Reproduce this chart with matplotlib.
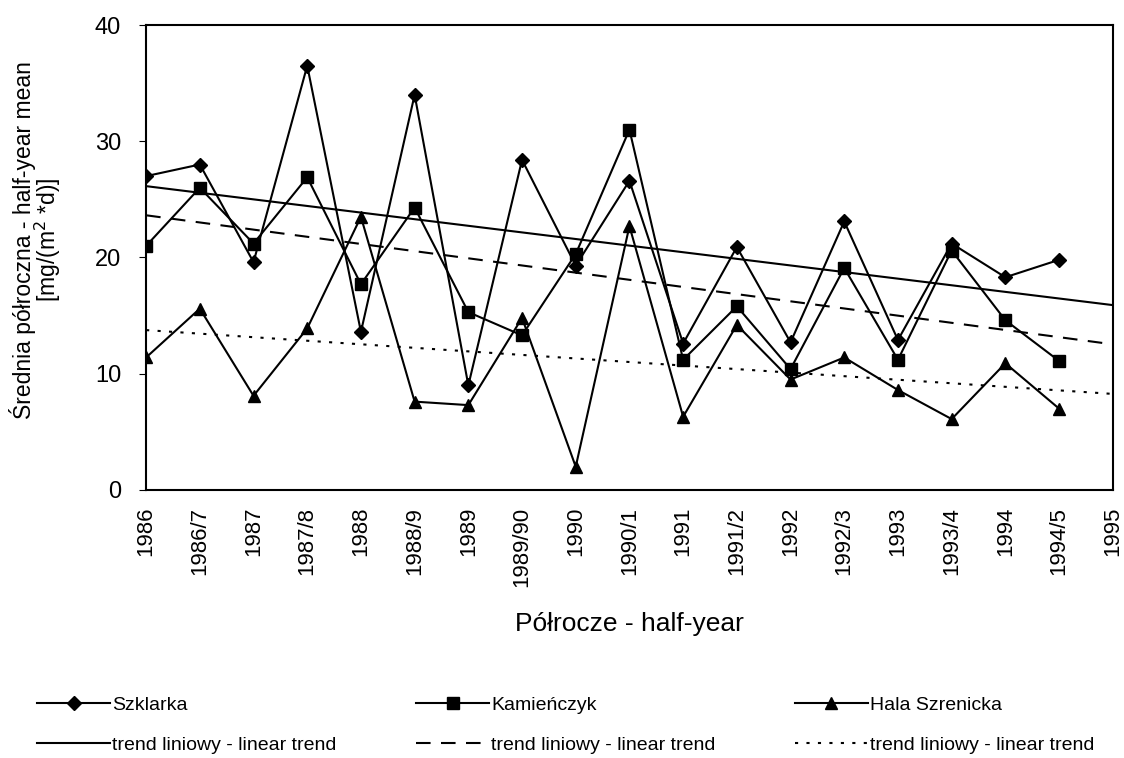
import numpy as np
import matplotlib
matplotlib.use('Agg')
import matplotlib.pyplot as plt

#----------------------------------------------------------------------------

# half-year categories (trend lines run to 1995, data to 1994/5)
categories = ['1986', '1986/7', '1987', '1987/8', '1988', '1988/9', '1989',
              '1989/90', '1990', '1990/1', '1991', '1991/2', '1992', '1992/3',
              '1993', '1993/4', '1994', '1994/5', '1995']

szklarka = [27.0, 28.0, 19.6, 36.5, 13.6, 34.0, 9.0, 28.4, 19.3, 26.6,
            12.6, 20.9, 12.7, 23.1, 12.9, 21.2, 18.3, 19.8]
kamienczyk = [21.0, 26.0, 21.2, 26.9, 17.7, 24.3, 15.3, 13.3, 20.3, 31.0,
              11.2, 15.8, 10.4, 19.1, 11.2, 20.6, 14.6, 11.1]
hala = [11.4, 15.6, 8.1, 13.9, 23.5, 7.6, 7.3, 14.8, 2.0, 22.7,
        6.3, 14.2, 9.5, 11.4, 8.6, 6.1, 10.9, 7.0]

series_names = ['Szklarka', 'Kamieńczyk', 'Hala Szrenicka']
trend_label = 'trend liniowy - linear trend'

#----------------------------------------------------------------------------

plt.rcParams['font.family'] = ['Liberation Sans', 'DejaVu Sans']

fig = plt.figure(figsize=(11.24, 7.58), dpi=100)
ax = fig.add_axes([0.130, 0.3536, 0.860, 0.6134])

x = np.arange(len(szklarka))
xt = np.arange(len(categories))

lw = 1.5
h1, = ax.plot(x, szklarka, color='black', lw=lw, marker='D', ms=7)
h2, = ax.plot(x, kamienczyk, color='black', lw=lw, marker='s', ms=9)
h3, = ax.plot(x, hala, color='black', lw=lw, marker='^', ms=9)

# linear trends, fitted to the data and extended to the last category
styles = ['-', (0, (7, 5)), (0, (1.5, 4))]
trends = []
for vals, ls in zip([szklarka, kamienczyk, hala], styles):
    k, b = np.polyfit(x, vals, 1)
    t, = ax.plot(xt, k * xt + b, color='black', lw=lw, ls=ls)
    trends.append(t)

ax.set_xlim(0, len(categories) - 1)
ax.set_ylim(0, 40)
ax.set_yticks([0, 10, 20, 30, 40])
ax.set_xticks(xt, categories, rotation=90)
ax.tick_params(axis='x', which='major', length=0, pad=12, labelsize=16)
ax.set_xticks(xt[::2], minor=True)
ax.tick_params(axis='x', which='minor', length=5, direction='out')
ax.tick_params(axis='y', length=5, direction='out', labelsize=17, pad=13)

for sp in ax.spines.values():
    sp.set_linewidth(1.5)

ax.set_xlabel('Półrocze - half-year', fontsize=19, labelpad=18)
ax.set_ylabel('Średnia półroczna - half-year mean\n[mg/(m$^2$ *d)]',
              fontsize=16.5, linespacing=0.85)
ax.yaxis.set_label_coords(-0.086, 0.538)

handles = [h1, h2, h3] + trends
labels = series_names + [trend_label] * 3
# order so that the legend fills row by row (3 columns)
order = [0, 3, 1, 4, 2, 5]
fig.legend([handles[i] for i in order], [labels[i] for i in order],
           loc='lower left', bbox_to_anchor=(0.017, -0.018), ncol=3,
           frameon=False, fontsize=14, handlelength=3.8, handletextpad=0.1,
           columnspacing=4.05, labelspacing=1.15)

fig.savefig('out.png', dpi=100)
